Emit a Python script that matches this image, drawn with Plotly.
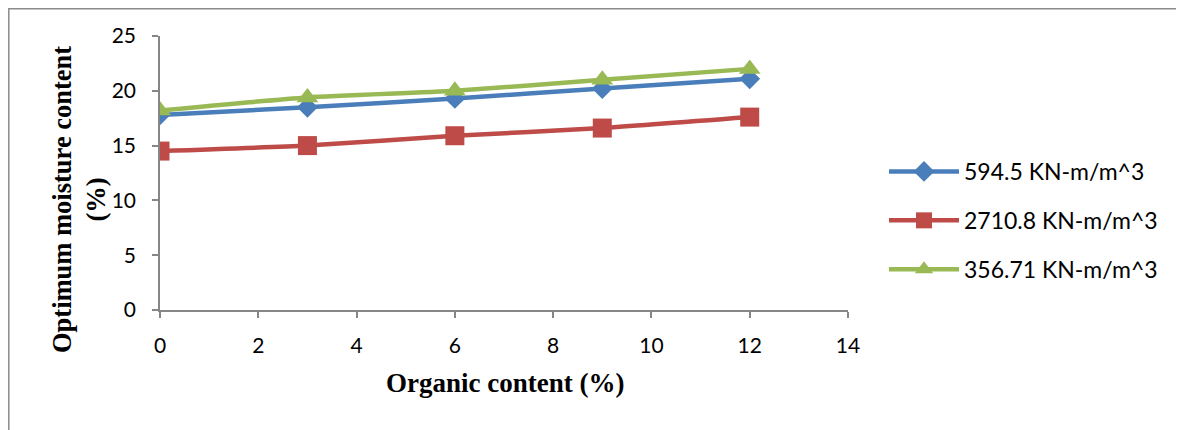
import plotly.graph_objects as go

organic = [0, 3, 6, 9, 12]
s1_name = "594.5 KN-m/m^3"
s1_vals = [17.8, 18.5, 19.3, 20.2, 21.1]
s2_name = "2710.8 KN-m/m^3"
s2_vals = [14.5, 15.0, 15.9, 16.6, 17.6]
s3_name = "356.71 KN-m/m^3"
s3_vals = [18.2, 19.4, 20.0, 21.0, 22.0]

x_ticks = [0, 2, 4, 6, 8, 10, 12, 14]
y_ticks = [0, 5, 10, 15, 20, 25]

# page body has an 8px margin; work in target-pixel coords and shift
OFF = 8
W, H = 1184 - OFF, 430 - OFF
L, R, T, B = 160 - OFF, 1184 - 848, 36 - OFF, 430 - 310
pw, ph = W - L - R, H - T - B

def px(xp):
    return (xp - OFF - L) / pw

def py(yp):
    return (H - B - (yp - OFF)) / ph

fig = go.Figure()
series = [
    (s1_name, s1_vals, "#4A7EBB", "diamond", 16),
    (s2_name, s2_vals, "#BE4B48", "square", 19),
    (s3_name, s3_vals, "#98B954", "triangle-up", 19),
]
for i, (name, vals, col, sym, sz) in enumerate(series):
    fig.add_trace(go.Scatter(
        x=organic, y=vals, name=name, mode="lines+markers",
        line=dict(color=col, width=4.5, shape="spline", smoothing=0.6),
        marker=dict(symbol=sym, size=sz, color=col),
        legendgroup=f"g{i}",
    ))

axis_col = "#868686"
tick_font = "Lato, Liberation Sans, sans-serif"
fig.update_layout(
    width=W, height=H,
    margin=dict(l=L, r=R, t=T, b=B),
    paper_bgcolor="white", plot_bgcolor="white",
    font=dict(family=tick_font, size=21, color="black"),
    showlegend=True,
    legend=dict(x=px(884), y=py(150), xanchor="left", yanchor="top",
                font=dict(size=23, family=tick_font),
                traceorder="grouped", tracegroupgap=16, itemwidth=70),
    xaxis=dict(range=[0, 14], tickvals=x_ticks, showgrid=False, zeroline=False,
               showline=True, linecolor=axis_col, linewidth=1.5,
               ticks="outside", ticklen=6, tickcolor=axis_col, tickwidth=1.5,
               ticklabelstandoff=10, tickfont=dict(size=21)),
    yaxis=dict(range=[0, 25], tickvals=y_ticks, showgrid=False, zeroline=False,
               showline=True, linecolor=axis_col, linewidth=1.5,
               ticks="outside", ticklen=6, tickcolor=axis_col, tickwidth=1.5,
               ticklabelstandoff=12, tickfont=dict(size=21)),
    annotations=[
        dict(text="<b>Organic content (%)</b>", xref="paper", yref="paper",
             x=px(505), y=py(383), xanchor="center", yanchor="middle",
             showarrow=False,
             font=dict(family="Liberation Serif, Times New Roman, serif", size=27)),
        dict(text="<b>Optimum moisture content<br>(%)</b>", xref="paper", yref="paper",
             x=px(79), y=py(200), xanchor="center", yanchor="middle",
             showarrow=False, textangle=-90,
             font=dict(family="Liberation Serif, Times New Roman, serif", size=26.5)),
    ],
    shapes=[
        dict(type="rect", xref="paper", yref="paper",
             x0=px(8.8), x1=px(1183), y0=py(436), y1=py(8.8),
             line=dict(color="#8c8c8c", width=1.5), fillcolor="rgba(0,0,0,0)"),
    ],
)

fig.write_html("out.html")
